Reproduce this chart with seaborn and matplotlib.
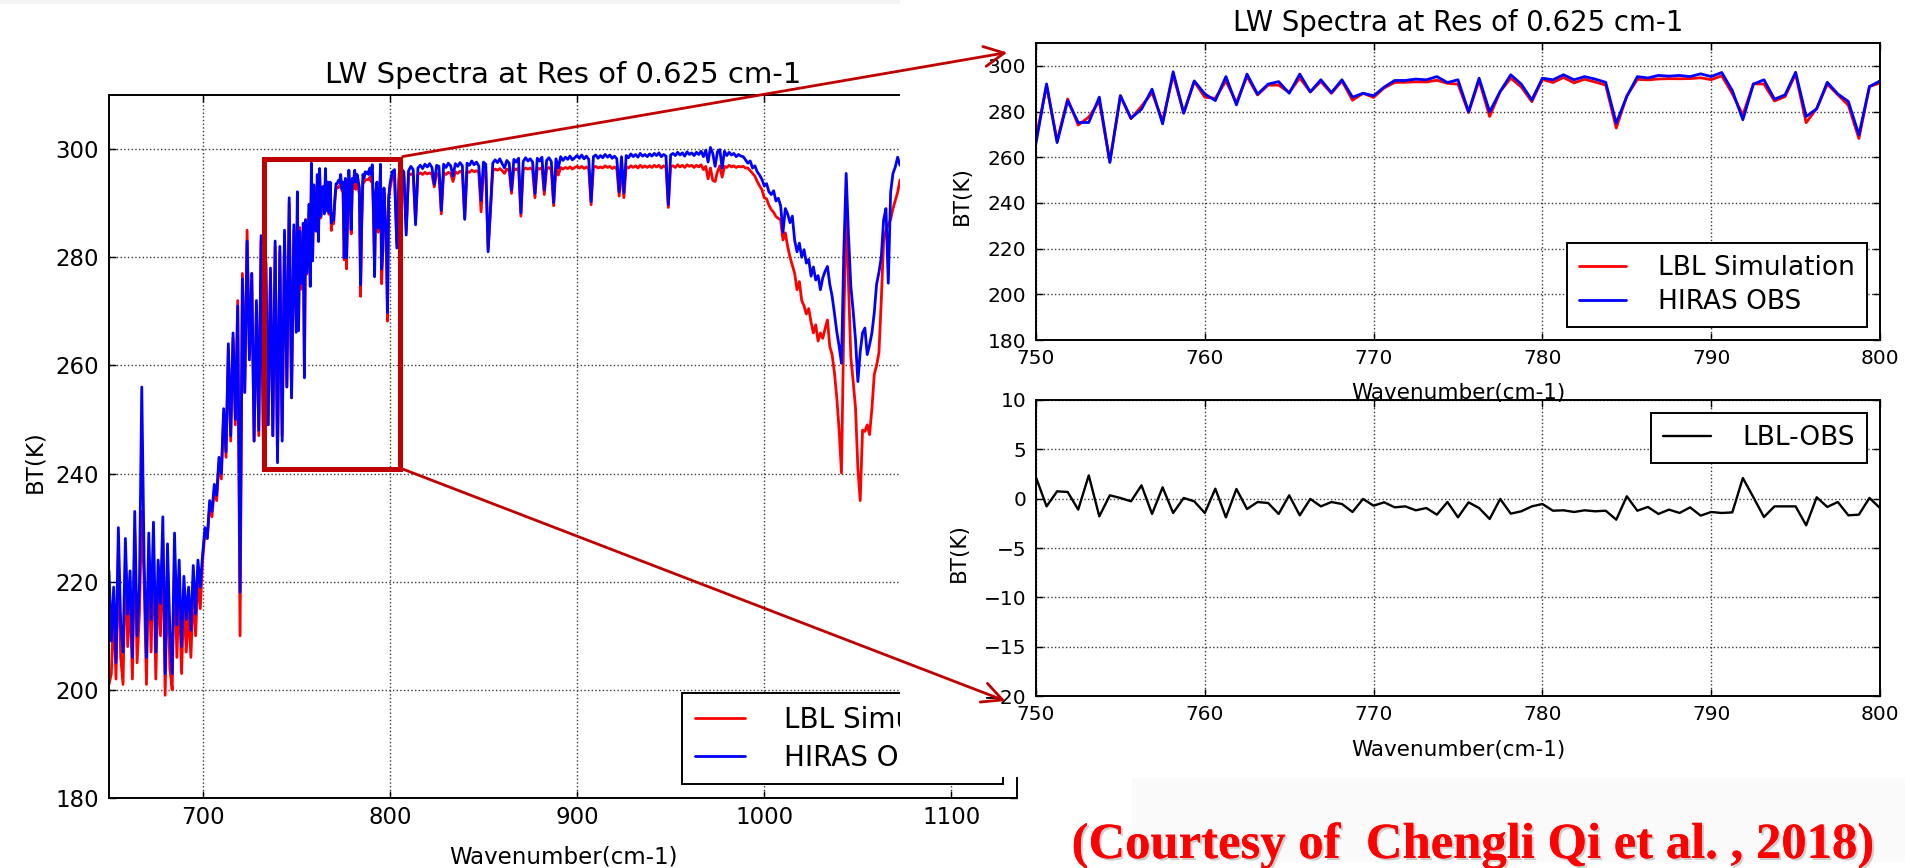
import numpy as np
import matplotlib
matplotlib.use("Agg")
import matplotlib.pyplot as plt
import seaborn as sns
from matplotlib.patches import Rectangle, FancyArrowPatch
import matplotlib.patheffects as pe

# ---------------------------------------------------------------------------
# Brightness temperature spectra (K)
# ---------------------------------------------------------------------------
# 750-800 cm-1 window at the native 0.625 cm-1 sampling
wn_zoom = np.arange(81) * 0.625 + 750.0
obs_zoom = [266.1, 292.1, 266.4, 284.8, 275.2, 275.2, 286.3, 257.7, 286.9, 277.1,
            281.0, 289.8, 274.6, 297.4, 279.3, 293.4, 287.7, 284.8, 295.3, 282.9,
            296.4, 287.6, 292.0, 293.1, 288.0, 296.4, 288.6, 293.9, 288.3, 293.9,
            286.3, 288.0, 286.9, 290.7, 293.6, 293.6, 294.2, 293.9, 295.3, 292.7,
            293.9, 279.9, 294.6, 279.9, 288.8, 296.1, 292.0, 285.1, 294.6, 293.9,
            296.1, 293.9, 295.3, 294.2, 292.8, 274.9, 286.6, 295.3, 294.7, 295.8,
            295.5, 295.8, 295.3, 296.5, 295.3, 297.1, 289.2, 276.4, 292.0, 293.9,
            285.4, 287.3, 297.2, 277.8, 281.2, 292.8, 287.7, 284.4, 269.8, 290.9,
            293.4]
# LBL minus OBS difference in the window
diff_zoom = [2.16, -0.78, 0.74, 0.68, -1.11, 2.36, -1.79, 0.34, 0.07, -0.27,
             1.35, -1.55, 1.15, -1.45, 0.07, -0.27, -1.45, 1.01, -1.89, 0.98,
             -1.05, -0.34, -0.44, -1.55, 0.34, -1.69, -0.03, -0.78, -0.34, -0.54,
             -1.35, -0.03, -0.71, -0.37, -0.88, -0.78, -1.18, -0.95, -1.62, -0.34,
             -1.89, -0.37, -0.95, -2.06, -0.03, -1.52, -1.28, -0.78, -0.54, -1.22,
             -1.18, -1.35, -1.18, -1.28, -1.22, -2.13, 0.24, -1.22, -0.84, -1.55,
             -1.11, -1.45, -0.88, -1.72, -1.35, -1.45, -1.39, 2.09, 0.14, -1.86,
             -0.78, -0.78, -0.78, -2.70, 0.14, -0.84, -0.34, -1.69, -1.62, 0.07,
             -0.95]
lbl_zoom = np.array(obs_zoom) + np.array(diff_zoom)

# rest of the long-wave band, 1.25 cm-1 sampling
wn_low = np.arange(650.0, 750.0, 1.25)
obs_low = [222, 209, 219, 205, 230, 212, 207, 228, 214, 222,
           206, 233, 210, 219, 256, 224, 206, 229, 213, 231,
           207, 224, 216, 232, 203, 227, 211, 203, 229, 212,
           224, 208, 221, 213, 219, 211, 223, 214, 224, 219,
           225, 230, 228, 235, 233, 238, 236, 243, 240, 252,
           244, 264, 247, 266, 250, 271, 218, 276, 255, 283,
           261, 277, 246, 272, 248, 284, 244, 280, 249, 278,
           247, 283, 242, 282, 246, 285, 256, 291, 254, 286]
lbl_low = [201, 203, 215, 202, 226, 206, 201, 224, 208, 218,
           202, 229, 205, 214, 233, 220, 201, 225, 207, 227,
           202, 220, 210, 228, 199, 223, 204, 200, 225, 206,
           219, 203, 217, 207, 215, 206, 219, 210, 221, 215,
           224, 229, 228, 234, 232, 237, 235, 242, 239, 251,
           243, 263, 246, 265, 249, 272, 210, 277, 255, 285,
           262, 277, 246, 271, 247, 283, 245, 279, 249, 277,
           247, 282, 243, 281, 247, 284, 256, 290, 254, 285]

wn_high = np.arange(801.25, 1075.01, 1.25)
obs_high = [295.8, 296.2, 281.7, 295.5, 296.3, 295.8, 284.1, 296.0, 296.8, 296.2,
            286.0, 296.5, 297.0, 296.4, 297.2, 296.7, 297.3, 296.6, 293.5, 297.0,
            296.8, 288.7, 297.2, 296.6, 297.4, 296.9, 295.0, 297.3, 296.8, 297.5,
            296.9, 287.0, 297.4, 297.0, 297.8, 297.1, 297.6, 296.9, 290.5, 297.6,
            297.2, 281.0, 289.0, 297.4, 298.0, 297.5, 298.2, 297.3, 296.5, 297.9,
            297.4, 292.4, 298.1, 297.6, 298.3, 288.2, 297.7, 298.4, 297.8, 298.2,
            297.6, 291.8, 298.3, 297.8, 298.5, 292.4, 297.9, 298.4, 297.7, 290.1,
            298.2, 296.5, 298.6, 297.9, 298.5, 298.1, 298.7, 298.0, 298.4, 298.8,
            298.3, 298.9, 298.2, 298.7, 298.1, 290.3, 298.6, 298.9, 298.3, 298.8,
            298.4, 299.0, 298.5, 298.9, 298.3, 298.7, 298.2, 292.1, 298.6, 291.9,
            298.8, 298.4, 299.1, 298.6, 299.0, 298.5, 299.2, 298.7, 299.0, 298.6,
            299.1, 298.7, 299.2, 298.8, 299.3, 298.6, 299.0, 298.7, 289.7, 298.9,
            299.2, 298.8, 299.4, 298.9, 299.3, 298.7, 299.5, 299.0, 299.3, 298.8,
            299.4, 299.0, 299.6, 298.6, 299.8, 297.6, 300.3, 299.2, 296.8, 299.5,
            299.9, 296.5, 299.6, 298.8, 299.4, 298.9, 299.2, 298.6, 299.0, 298.7,
            298.6, 298.0, 297.4, 297.8, 296.5, 296.9, 295.8, 295.2, 294.4, 293.2,
            293.6, 292.1, 291.6, 292.3, 290.4, 290.9, 289.5, 284.6, 289.0, 288.0,
            286.4, 287.6, 283.1, 281.0, 282.6, 280.0, 281.4, 278.9, 279.6, 276.5,
            278.2, 275.8, 276.6, 274.0, 276.2, 277.4, 278.3, 275.0, 272.8, 269.6,
            266.2, 263.5, 260.4, 281.0, 295.5, 284.0, 274.6, 270.0, 264.7, 257.0,
            262.5, 266.0, 266.9, 262.0, 263.8, 266.0, 269.7, 275.0, 277.2, 280.0,
            286.9, 289.0, 275.2, 292.0, 295.5, 296.7, 298.5, 297.0, 298.0, 297.5]
lbl_high = [294.8, 295.0, 282.5, 294.8, 295.2, 294.9, 285.0, 295.1, 295.4, 295.2,
            286.8, 295.3, 295.6, 295.3, 295.7, 295.4, 295.6, 295.3, 293.0, 295.5,
            295.3, 288.0, 295.6, 295.3, 295.7, 295.5, 294.0, 295.8, 295.5, 295.9,
            295.6, 287.2, 295.9, 295.7, 296.1, 295.8, 296.0, 295.7, 288.4, 296.0,
            295.9, 281.5, 288.5, 296.0, 296.3, 296.1, 296.4, 296.0, 295.5, 296.3,
            296.1, 291.8, 296.4, 296.2, 296.5, 287.6, 296.2, 296.5, 296.3, 296.5,
            296.2, 291.0, 296.5, 296.3, 296.6, 291.6, 296.3, 296.6, 296.2, 289.5,
            296.5, 295.2, 296.6, 296.3, 296.6, 296.4, 296.7, 296.3, 296.6, 296.8,
            296.5, 296.8, 296.4, 296.7, 296.3, 289.7, 296.6, 296.8, 296.5, 296.7,
            296.5, 296.9, 296.6, 296.8, 296.4, 296.7, 296.3, 291.3, 296.6, 291.0,
            296.8, 296.5, 296.9, 296.6, 296.9, 296.5, 297.0, 296.6, 296.9, 296.6,
            296.9, 296.6, 297.0, 296.7, 297.0, 296.5, 296.9, 296.6, 289.2, 296.8,
            296.9, 296.6, 297.1, 296.7, 297.0, 296.6, 297.1, 296.8, 297.0, 296.6,
            297.0, 296.7, 297.1, 296.2, 296.8, 294.5, 296.5, 294.2, 294.0, 295.8,
            296.9, 294.8, 296.8, 296.6, 297.0, 296.7, 296.9, 296.6, 296.8, 296.7,
            296.8, 296.5, 296.5, 296.0, 295.5, 295.0, 294.0, 293.2, 292.5, 291.0,
            290.8, 289.6, 288.8, 288.3, 287.5, 287.2, 286.9, 283.2, 284.5, 282.0,
            280.0, 278.5, 277.0, 274.0, 275.5, 272.0, 271.0, 269.5, 270.5, 268.0,
            266.0, 267.5, 264.5, 266.0, 265.0, 266.8, 268.4, 263.5, 262.0, 258.6,
            254.0, 248.0, 240.1, 268.0, 289.4, 275.0, 261.5, 257.0, 252.1, 241.0,
            235.0, 248.0, 247.8, 249.0, 247.2, 252.0, 258.3, 260.0, 262.3, 272.0,
            282.9, 285.0, 286.0, 287.0, 289.0, 290.5, 292.0, 294.3, 293.5, 294.0]

# full band assembled from the three pieces
wn_full = np.concatenate([wn_low, wn_zoom, wn_high])
obs_full = np.concatenate([obs_low, obs_zoom, obs_high])
lbl_full = np.concatenate([lbl_low, lbl_zoom, lbl_high])

full_xticks = [700, 800, 900, 1000, 1100]
bt_yticks = [180, 200, 220, 240, 260, 280, 300]
zoom_xticks = [750, 760, 770, 780, 790, 800]
diff_yticks = [-20, -15, -10, -5, 0, 5, 10]

title_text = "LW Spectra at Res of 0.625 cm-1"
label_lbl = "LBL Simulation"
label_obs = "HIRAS OBS"
label_diff = "LBL-OBS"
credit_text = "(Courtesy of  Chengli Qi et al. , 2018)"

# ---------------------------------------------------------------------------
# Styling
# ---------------------------------------------------------------------------
sns.set_style("ticks", {
    "axes.edgecolor": "black", "text.color": "black",
    "xtick.color": "black", "ytick.color": "black",
    "axes.labelcolor": "black",
    "xtick.direction": "in", "ytick.direction": "in",
    "xtick.top": True, "ytick.right": True,
    "axes.grid": True, "grid.linestyle": ":", "grid.color": "#3a3a3a",
})
plt.rcParams["font.family"] = ["DejaVu Sans"]
plt.rcParams["axes.unicode_minus"] = True
plt.rcParams["grid.linewidth"] = 1.0
plt.rcParams["axes.linewidth"] = 1.4

W, H = 1905, 868
fig = plt.figure(figsize=(W / 100, H / 100), dpi=100)
fig.patch.set_facecolor("white")


def box(x0, y0, x1, y1):
    return [x0 / W, 1 - y1 / H, (x1 - x0) / W, (y1 - y0) / H]


RED = "#ff0000"
BLUE = "#0000ff"
DARKRED = "#c00000"


def style_axis(ax, tick_fs, xpad, ypad):
    ax.tick_params(axis="both", which="major", labelsize=tick_fs, length=5,
                   width=1.0, direction="in", top=True, right=True)
    ax.tick_params(axis="x", pad=xpad)
    ax.tick_params(axis="y", pad=ypad)
    ax.grid(True, linestyle=":", color="#3a3a3a", linewidth=1.0)
    for sp in ax.spines.values():
        sp.set_linewidth(1.4)
        sp.set_color("black")


# ---- full-band panel -------------------------------------------------------
ax_full = fig.add_axes(box(109, 95, 1017, 798))
ax_full.set_zorder(0)
sns.lineplot(x=wn_full, y=lbl_full, ax=ax_full, color=RED, linewidth=2.0,
             sort=False, label=label_lbl)
sns.lineplot(x=wn_full, y=obs_full, ax=ax_full, color=BLUE, linewidth=2.0,
             sort=False, label=label_obs)
ax_full.set_xlim(650, 1135)
ax_full.set_ylim(180, 310)
ax_full.set_xticks(full_xticks)
ax_full.set_yticks(bt_yticks)
style_axis(ax_full, 16.5, 6, 7)
ax_full.set_title(title_text, fontsize=21, pad=8.5)
ax_full.set_xlabel("Wavenumber(cm-1)", fontsize=16.5)
ax_full.set_ylabel("BT(K)", fontsize=16.5)
ax_full.xaxis.set_label_coords(0.5, -0.067)
ax_full.yaxis.set_label_coords(-0.069, 0.479)
leg = ax_full.legend(loc="lower right", fontsize=20, frameon=True, fancybox=False,
                     framealpha=1, edgecolor="black", borderpad=0.45,
                     handlelength=1.8, handletextpad=1.4, labelspacing=0.35,
                     borderaxespad=0.5)
leg.get_frame().set_linewidth(1.4)

# window marker on the full-band panel
ax_full.add_patch(Rectangle((733, 240.8), 72.6, 57.4, fill=False,
                            edgecolor=DARKRED, linewidth=3.6, zorder=5))

# the zoomed panels sit on their own white sheet over the right side
fig.add_artist(Rectangle((900 / W, 1 - 777 / H), 1 - 900 / W, 777 / H,
                         transform=fig.transFigure, facecolor="white",
                         edgecolor="none", zorder=1))

# ---- zoomed spectra --------------------------------------------------------
ax_top = fig.add_axes(box(1036, 43, 1880, 340))
ax_top.set_zorder(3)
sns.lineplot(x=wn_zoom, y=lbl_zoom, ax=ax_top, color=RED, linewidth=2.0,
             sort=False, label=label_lbl)
sns.lineplot(x=wn_zoom, y=obs_zoom, ax=ax_top, color=BLUE, linewidth=2.0,
             sort=False, label=label_obs)
ax_top.set_xlim(750, 800)
ax_top.set_ylim(180, 310)
ax_top.set_xticks(zoom_xticks)
ax_top.set_yticks(bt_yticks)
style_axis(ax_top, 14.5, 6.5, 7)
ax_top.set_title(title_text, fontsize=19.8, pad=8.5)
ax_top.set_xlabel("Wavenumber(cm-1)", fontsize=15.5)
ax_top.set_ylabel("BT(K)", fontsize=15.5)
ax_top.xaxis.set_label_coords(0.5, -0.145)
ax_top.yaxis.set_label_coords(-0.076, 0.488)
leg = ax_top.legend(loc="lower right", fontsize=19, frameon=True, fancybox=False,
                    framealpha=1, edgecolor="black", borderpad=0.45,
                    handlelength=1.8, handletextpad=1.2, labelspacing=0.3,
                    borderaxespad=0.5)
leg.get_frame().set_linewidth(1.4)

# ---- difference panel ------------------------------------------------------
ax_diff = fig.add_axes(box(1036, 400, 1880, 696))
ax_diff.set_zorder(2)
sns.lineplot(x=wn_zoom, y=diff_zoom, ax=ax_diff, color="black", linewidth=1.7,
             sort=False, label=label_diff)
ax_diff.set_xlim(750, 800)
ax_diff.set_ylim(-20, 10)
ax_diff.set_xticks(zoom_xticks)
ax_diff.set_yticks(diff_yticks)
style_axis(ax_diff, 14.5, 6.5, 7)
ax_diff.set_xlabel("Wavenumber(cm-1)", fontsize=15.5)
ax_diff.set_ylabel("BT(K)", fontsize=15.5)
ax_diff.xaxis.set_label_coords(0.5, -0.149)
ax_diff.yaxis.set_label_coords(-0.079, 0.486)
leg = ax_diff.legend(loc="upper right", fontsize=19, frameon=True, fancybox=False,
                     framealpha=1, edgecolor="black", borderpad=0.45,
                     handlelength=1.8, handletextpad=1.2, borderaxespad=0.5)
leg.get_frame().set_linewidth(1.4)

# ---- arrows from the window marker to the zoomed panels --------------------
for (xa, ya), (xb, yb) in [((400, 157), (1010, 52)), ((400, 468), (1008, 702))]:
    fig.add_artist(FancyArrowPatch((xa / W, 1 - ya / H), (xb / W, 1 - yb / H),
                                   transform=fig.transFigure,
                                   arrowstyle="->,head_length=0.9,head_width=0.45",
                                   mutation_scale=16, color=DARKRED,
                                   linewidth=2.0, zorder=10))

# ---- credit line ------------------------------------------------------------
fig.add_artist(Rectangle((1132 / W, 1 - 862 / H), 773 / W, 84 / H,
                         transform=fig.transFigure, facecolor="#fafafa",
                         edgecolor="none", zorder=0.5))
fig.add_artist(Rectangle((0, 1 - 4 / H), 900 / W, 4 / H,
                         transform=fig.transFigure, facecolor="#f4f4f4",
                         edgecolor="none", zorder=0.5))
credit = fig.text(1474 / W, 1 - 858 / H, credit_text, ha="center", va="baseline",
                  fontsize=36.5, fontweight="bold", family=["Liberation Serif"],
                  color=RED, zorder=11)
credit.set_path_effects([pe.withSimplePatchShadow(offset=(1.5, -1.5),
                                                  shadow_rgbFace="#888888",
                                                  alpha=0.4), pe.Normal()])

fig.savefig("out.png", dpi=100, facecolor="white")
